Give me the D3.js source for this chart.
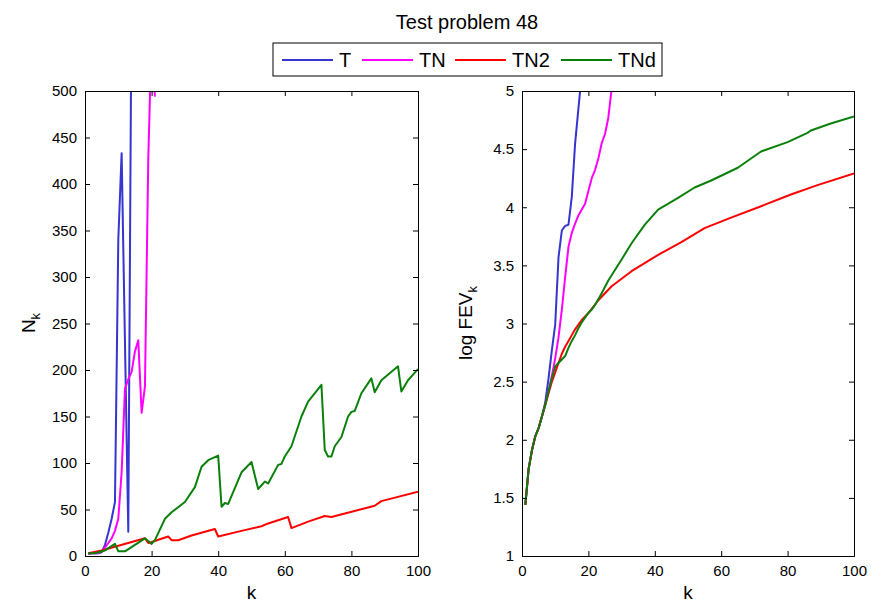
<!DOCTYPE html>
<html>
<head>
<meta charset="utf-8">
<script src="https://cdn.jsdelivr.net/npm/d3@7"></script>
<style>
  body { margin: 0; background: #fff; }
  svg { font-family: "Liberation Sans", Arial, sans-serif; }
</style>
</head>
<body>
<svg id="chart" width="871" height="602"></svg>
<script>
// ---- data ----
const seriesNames = ['T', 'TN', 'TN2', 'TNd']
const seriesColors = ['#3535cf', '#ff00ff', '#ff0000', '#0a800a']

// left panel: N_k
const kT = [1, 2, 3, 4, 5, 6, 7, 8, 9, 10, 11, 12, 13, 14]
const nT = [2, 3, 3, 3, 4, 12, 25, 40, 58, 340, 433, 230, 26, 620]
const kTN = [1, 2, 3, 4, 5, 6, 7, 8, 9, 10, 11, 12, 13, 14, 15, 16, 17, 18, 19, 20, 21]
const nTN = [3, 3, 3, 3, 5, 9, 14, 19, 27, 40, 90, 180, 190, 198, 220, 232, 154, 182, 427, 560, 494]
const kTN2 = [1, 5, 18, 19, 20, 25, 26, 28, 32, 39, 40, 47, 53, 55, 61, 62, 67, 72, 74, 87, 89, 100]
const nTN2 = [3, 6, 19, 14, 15, 21, 17, 17, 22, 29, 21, 27, 32, 35, 42, 30, 37, 43, 42, 54, 59, 69]
const kTNd = [1, 3, 6, 9, 10, 12, 15, 18, 20, 21, 24, 26, 30, 33, 35, 37, 40, 41, 42, 43, 45, 47, 50, 52, 54, 55, 58, 59, 60, 62, 65, 67, 71, 72, 73, 74, 75, 77, 79, 80, 81, 83, 86, 87, 89, 94, 95, 97, 100]
const nTNd = [3, 3, 6, 13, 5, 5, 12, 19, 13, 17, 40, 47, 58, 74, 96, 103, 108, 53, 57, 56, 73, 90, 101, 72, 80, 78, 98, 99, 107, 118, 150, 166, 184, 114, 107, 107, 118, 128, 150, 155, 156, 175, 191, 176, 189, 204, 177, 189, 201]

// right panel: log FEV_k
const kFT = [1, 2, 3, 4, 5, 6, 7, 8, 9, 10, 11, 12, 13, 14, 15, 16, 17, 18]
const fT = [1.44, 1.75, 1.91, 2.03, 2.10, 2.20, 2.32, 2.53, 2.77, 2.99, 3.57, 3.80, 3.84, 3.85, 4.09, 4.55, 4.85, 5.15]
const kFTN = [1, 2, 3, 4, 5, 6, 7, 8, 9, 10, 11, 12, 13, 14, 15, 16, 17, 18, 19, 20, 21, 22, 23, 24, 25, 26, 27]
const fTN = [1.44, 1.75, 1.91, 2.03, 2.10, 2.20, 2.30, 2.42, 2.55, 2.70, 2.88, 3.12, 3.40, 3.66, 3.78, 3.86, 3.93, 3.98, 4.03, 4.14, 4.25, 4.32, 4.42, 4.55, 4.63, 4.77, 5.02]
const kFTN2 = [1, 2, 3, 4, 5, 6, 7, 8, 9, 10, 11, 12, 13, 14, 15, 16, 17, 18, 20, 23, 27, 33, 41, 48, 55, 62, 73, 81, 89, 100]
const fTN2 = [1.44, 1.75, 1.91, 2.03, 2.10, 2.20, 2.30, 2.40, 2.50, 2.58, 2.66, 2.74, 2.80, 2.85, 2.90, 2.95, 2.99, 3.03, 3.09, 3.20, 3.32, 3.45, 3.59, 3.70, 3.82, 3.90, 4.02, 4.11, 4.19, 4.29]
const kFTNd = [1, 2, 3, 4, 5, 6, 7, 8, 9, 10, 11, 12, 13, 14, 15, 16, 17, 18, 19, 20, 21, 22, 24, 26, 30, 33, 37, 41, 47, 52, 57, 65, 72, 80, 86, 87, 93, 100]
const fTNd = [1.44, 1.75, 1.91, 2.03, 2.10, 2.20, 2.30, 2.42, 2.53, 2.63, 2.66, 2.69, 2.72, 2.79, 2.85, 2.90, 2.96, 3.01, 3.05, 3.09, 3.12, 3.16, 3.26, 3.37, 3.55, 3.69, 3.85, 3.98, 4.08, 4.17, 4.23, 4.34, 4.48, 4.56, 4.64, 4.66, 4.72, 4.78]

const xTicks = [0, 20, 40, 60, 80, 100]
const leftYTicks = [0, 50, 100, 150, 200, 250, 300, 350, 400, 450, 500]
const rightYTicks = [1, 1.5, 2, 2.5, 3, 3.5, 4, 4.5, 5]

const zip = (ks, vs) => ks.map((k, i) => ({ k: k, v: vs[i] }))

const svg = d3.select('#chart')

// title //
svg.append('text')
    .attr('x', 467)
    .attr('y', 29)
    .attr('text-anchor', 'middle')
    .style('font-size', '20px')
    .text('Test problem 48')

/**
 * draws one MATLAB-like axes box with inward ticks on all sides
 */
function drawPanel(opts) {
    const { left, right, top, bottom, yDomain, yTicks, series, id } = opts

    const x = d3.scaleLinear().domain([0, 100]).range([left, right])
    const y = d3.scaleLinear().domain(yDomain).range([bottom, top])

    const g = svg.append('g')

    g.append('rect')
        .attr('x', left).attr('y', top)
        .attr('width', right - left).attr('height', bottom - top)
        .attr('fill', '#fff')

    svg.append('clipPath')
        .attr('id', id)
        .append('rect')
        .attr('x', left).attr('y', top)
        .attr('width', right - left).attr('height', bottom - top)

    const line = d3.line()
        .x(d => x(d.k))
        .y(d => y(d.v))

    const lines = g.append('g').attr('clip-path', `url(#${id})`)
    series.forEach((s, i) => {
        lines.append('path')
            .attr('d', line(s))
            .attr('fill', 'none')
            .attr('stroke', seriesColors[i])
            .attr('stroke-width', 2)
            .attr('stroke-linejoin', 'round')
    })

    // axes (inward ticks) //
    const tl = -5
    const fmt = d3.format('~g')
    g.append('g')
        .attr('transform', `translate(0,${bottom})`)
        .call(d3.axisBottom(x).tickValues(xTicks).tickSize(tl).tickPadding(9).tickFormat(fmt))
    g.append('g')
        .attr('transform', `translate(0,${top})`)
        .call(d3.axisTop(x).tickValues(xTicks).tickSize(tl).tickFormat(''))
    g.append('g')
        .attr('transform', `translate(${left},0)`)
        .call(d3.axisLeft(y).tickValues(yTicks).tickSize(tl).tickPadding(8).tickFormat(fmt))
    g.append('g')
        .attr('transform', `translate(${right},0)`)
        .call(d3.axisRight(y).tickValues(yTicks).tickSize(tl).tickFormat(''))

    g.selectAll('.domain').attr('stroke', '#000').attr('stroke-width', 1)
    g.selectAll('.tick line').attr('stroke', '#000')
    g.selectAll('.tick text')
        .attr('fill', '#000')
        .style('font-size', '15px')
        .style('font-family', '"Liberation Sans", Arial, sans-serif')

    // x label //
    g.append('text')
        .attr('x', (left + right) / 2)
        .attr('y', 599)
        .attr('text-anchor', 'middle')
        .style('font-size', '19px')
        .text('k')
}

drawPanel({
    id: 'clipL', left: 85, right: 418, top: 91, bottom: 556,
    yDomain: [0, 500], yTicks: leftYTicks,
    series: [zip(kT, nT), zip(kTN, nTN), zip(kTN2, nTN2), zip(kTNd, nTNd)]
})

drawPanel({
    id: 'clipR', left: 522, right: 854, top: 91, bottom: 556,
    yDomain: [1, 5], yTicks: rightYTicks,
    series: [zip(kFT, fT), zip(kFTN, fTN), zip(kFTN2, fTN2), zip(kFTNd, fTNd)]
})

// y labels //
const yl1 = svg.append('text')
    .attr('transform', 'translate(35,323) rotate(-90)')
    .attr('text-anchor', 'middle')
    .style('font-size', '19px')
yl1.append('tspan').text('N')
yl1.append('tspan').attr('dy', 5).style('font-size', '13px').text('k')

const yl2 = svg.append('text')
    .attr('transform', 'translate(472,323) rotate(-90)')
    .attr('text-anchor', 'middle')
    .style('font-size', '19px')
yl2.append('tspan').text('log FEV')
yl2.append('tspan').attr('dy', 5).style('font-size', '13px').text('k')

// legend //
const legend = svg.append('g')
legend.append('rect')
    .attr('x', 273).attr('y', 43)
    .attr('width', 389).attr('height', 33)
    .attr('fill', '#fff')
    .attr('stroke', '#000')
const legendX = [282, 362, 455, 561]
seriesNames.forEach((name, i) => {
    legend.append('line')
        .attr('x1', legendX[i]).attr('x2', legendX[i] + 51)
        .attr('y1', 60).attr('y2', 60)
        .attr('stroke', seriesColors[i])
        .attr('stroke-width', 2)
    legend.append('text')
        .attr('x', legendX[i] + 57)
        .attr('y', 67)
        .style('font-size', '20px')
        .text(name)
})
</script>
</body>
</html>
